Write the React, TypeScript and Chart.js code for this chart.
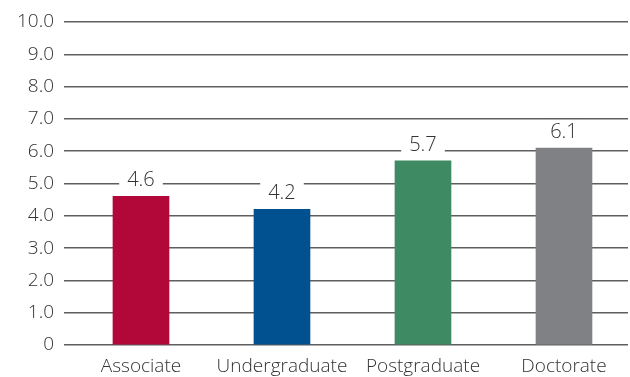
import React, { useEffect, useRef } from "react";
import { Chart, registerables } from "chart.js";

Chart.register(...registerables);

const categories = ["Associate", "Undergraduate", "Postgraduate", "Doctorate"];
const values = [4.6, 4.2, 5.7, 6.1];
const barColors = ["#b10839", "#01508f", "#3e8a62", "#808185"];
const yTickValues = [0, 1, 2, 3, 4, 5, 6, 7, 8, 9, 10];

const FONT = "'Open Sans', 'Noto Sans', sans-serif";
const TEXT = "#333333";

// Value labels above each bar, on a white box that breaks the gridline behind it
const valueLabels = {
  id: "valueLabels",
  afterDatasetsDraw(chart: any) {
    const ctx = chart.ctx;
    const meta = chart.getDatasetMeta(0);
    ctx.save();
    ctx.font = `300 20px ${FONT}`;
    ctx.textAlign = "center";
    ctx.textBaseline = "middle";
    meta.data.forEach((bar: any, i: number) => {
      const text = values[i].toFixed(1);
      const w = ctx.measureText(text).width;
      const cy = bar.y - 16;
      ctx.fillStyle = "#ffffff";
      ctx.fillRect(bar.x - w / 2 - 8, cy - 12, w + 16, 23);
      ctx.fillStyle = TEXT;
      ctx.fillText(text, bar.x, cy);
    });
    ctx.restore();
  },
};

export default function App() {
  const canvasRef = useRef<HTMLCanvasElement>(null);

  useEffect(() => {
    document.body.style.margin = "0";
    const chart = new Chart(canvasRef.current!, {
      type: "bar",
      data: {
        datasets: [
          {
            data: values.map((v, i) => ({ x: i, y: v })),
            backgroundColor: barColors,
            barThickness: 56,
          },
        ],
      },
      options: {
        animation: false,
        responsive: false,
        maintainAspectRatio: false,
        layout: { padding: { top: 22, right: 2, left: 0, bottom: 0 } },
        plugins: { legend: { display: false }, tooltip: { enabled: false } },
        scales: {
          x: {
            type: "linear",
            offset: false,
            min: -0.546,
            max: 3.454,
            grid: { display: false, offset: false },
            border: { display: false },
            afterBuildTicks: (axis: any) => {
              axis.ticks = categories.map((_, i) => ({ value: i }));
            },
            afterFit: (axis: any) => {
              axis.height = 32;
            },
            ticks: {
              autoSkip: false,
              maxRotation: 0,
              padding: 2,
              color: TEXT,
              font: { family: FONT, size: 19, weight: "300" },
              callback: (v: any) => categories[v as number] ?? "",
            },
          },
          y: {
            min: 0,
            max: 10,
            afterBuildTicks: (axis: any) => {
              axis.ticks = yTickValues.map((v) => ({ value: v }));
            },
            afterFit: (axis: any) => {
              axis.width = 64;
            },
            border: { display: false },
            grid: { color: "#5e5e5e", lineWidth: 1.5, drawTicks: false },
            ticks: {
              padding: 10,
              color: TEXT,
              font: { family: FONT, size: 19, weight: "300" },
              callback: (v: any) => (v === 0 ? "0" : Number(v).toFixed(1)),
            },
          },
        },
      },
      plugins: [valueLabels],
    });
    return () => chart.destroy();
  }, []);

  return (
    <div style={{ width: 630, height: 377 }}>
      <canvas ref={canvasRef} width={630} height={377} />
    </div>
  );
}
